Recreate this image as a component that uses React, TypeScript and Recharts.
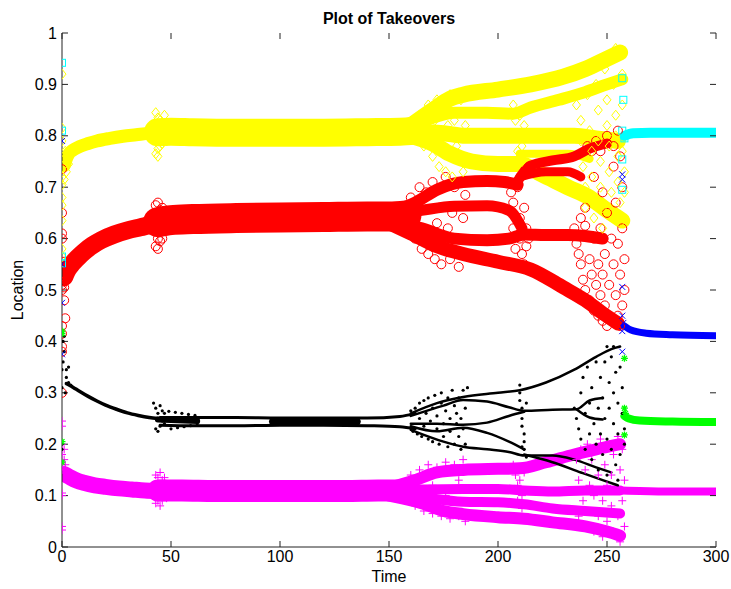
import React from "react";
import { ComposedChart, Line, Scatter, XAxis, YAxis, ReferenceLine } from "recharts";

// ---- tick labels ----
const timeTicks = [0, 50, 100, 150, 200, 250, 300];
const locTicks = [0, 0.1, 0.2, 0.3, 0.4, 0.5, 0.6, 0.7, 0.8, 0.9, 1];

// ---- yellow (diamonds) ----
const yellowEarly = [[1, 0.742], [2, 0.755], [3, 0.764], [5, 0.772], [8, 0.779], [12, 0.785], [16, 0.79], [22, 0.795], [28, 0.799], [34, 0.802], [40, 0.805], [44, 0.806]];
const yellowMain = [[44, 0.807], [50, 0.808], [60, 0.807], [80, 0.806], [100, 0.806], [120, 0.806], [140, 0.807], [155, 0.808], [162, 0.81]];
const yellowA = [[160, 0.82], [170, 0.85], [178, 0.872], [184, 0.88], [200, 0.89], [215, 0.9], [230, 0.915], [240, 0.93], [250, 0.95], [256, 0.962]];
const yellowB = [[160, 0.815], [170, 0.835], [180, 0.845], [195, 0.845], [207, 0.843], [215, 0.855], [228, 0.87], [240, 0.885], [250, 0.9], [257, 0.91]];
const yellowC = [[160, 0.808], [175, 0.805], [185, 0.8], [200, 0.8], [210, 0.8], [222, 0.8], [235, 0.8], [245, 0.795], [255, 0.79]];
const yellowD = [[160, 0.8], [170, 0.785], [178, 0.765], [188, 0.75], [200, 0.745], [210, 0.745], [220, 0.725], [232, 0.7], [242, 0.68], [250, 0.655], [257, 0.635]];
const yellowE = [[210, 0.765], [220, 0.765], [232, 0.765], [242, 0.755]];
const yellowPts = [
  [0, 0.92], [0, 0.815], [0, 0.79], [0, 0.72], [0, 0.705], [0, 0.68], [0, 0.665], [0, 0.635], [0, 0.58], [0, 0.565],
  [1, 0.755], [1.5, 0.77], [2, 0.73], [2.5, 0.76], [1, 0.715], [3, 0.745],
  [43, 0.845], [43, 0.765], [44, 0.835], [44, 0.775], [45, 0.83], [45, 0.78], [46, 0.825], [46, 0.785], [47, 0.84], [44, 0.76], [45, 0.815], [48, 0.79],
  [164, 0.84], [166, 0.78], [168, 0.86], [170, 0.76], [172, 0.87], [173, 0.74], [175, 0.85], [176, 0.73], [178, 0.88], [179, 0.72], [180, 0.83], [181, 0.78], [183, 0.87], [184, 0.73], [185, 0.82], [168, 0.8], [174, 0.8], [177, 0.82], [171, 0.83],
  [207, 0.86], [208, 0.83], [209, 0.8], [209, 0.77], [210, 0.84], [211, 0.78], [211, 0.75], [212, 0.82], [207, 0.74],
  [236, 0.86], [238, 0.83], [238, 0.79], [239, 0.74], [240, 0.7], [240, 0.66], [241, 0.88], [242, 0.81], [243, 0.77], [243, 0.72], [244, 0.68], [244, 0.64], [245, 0.9], [246, 0.85], [246, 0.79], [247, 0.75], [247, 0.7], [248, 0.66], [248, 0.62], [249, 0.93], [250, 0.87], [250, 0.82], [251, 0.78], [251, 0.73], [252, 0.69], [252, 0.65], [253, 0.95], [253, 0.9], [254, 0.84], [254, 0.8], [255, 0.76], [255, 0.71], [256, 0.67], [256, 0.63], [257, 0.92], [257, 0.86], [257, 0.77], [258, 0.73], [258, 0.69], [256, 0.96], [254, 0.97],
];

// ---- red (circles) ----
const redEarly = [[1, 0.525], [2, 0.535], [4, 0.548], [7, 0.562], [10, 0.574], [14, 0.587], [18, 0.597], [24, 0.608], [30, 0.616], [36, 0.622], [42, 0.628], [45, 0.63]];
const redMain = [[44, 0.632], [50, 0.636], [60, 0.638], [80, 0.64], [100, 0.641], [120, 0.642], [140, 0.643], [150, 0.643], [158, 0.645]];
const redA = [[150, 0.65], [162, 0.67], [172, 0.695], [184, 0.71], [195, 0.712], [203, 0.71], [209, 0.705]];
const redA2 = [[208, 0.705], [215, 0.742], [225, 0.752], [235, 0.76], [242, 0.775], [250, 0.785]];
const redA3 = [[210, 0.72], [222, 0.73], [232, 0.73], [238, 0.72]];
const redB = [[150, 0.645], [165, 0.655], [180, 0.663], [195, 0.664], [205, 0.655], [211, 0.62]];
const redC = [[150, 0.635], [165, 0.62], [180, 0.6], [195, 0.597], [205, 0.6], [212, 0.608], [222, 0.607], [232, 0.607], [240, 0.605], [248, 0.6]];
const redD = [[150, 0.63], [160, 0.61], [172, 0.585], [184, 0.57], [200, 0.555], [215, 0.54], [230, 0.505], [240, 0.48], [248, 0.455], [255, 0.435]];
const redPts = [
  [0, 0.735], [0, 0.65], [0, 0.61], [0, 0.6], [0, 0.51], [0, 0.5], [1, 0.48], [1.5, 0.445], [0, 0.43], [0, 0.415], [0, 0.39], [0, 0.38], [0, 0.3], [1, 0.505], [2, 0.52], [3, 0.53], [1, 0.555],
  [43, 0.665], [43, 0.585], [44, 0.67], [44, 0.58], [45, 0.655], [45, 0.595], [46, 0.66], [46, 0.6], [47, 0.65], [44, 0.6],
  [160, 0.68], [162, 0.6], [164, 0.7], [165, 0.58], [167, 0.69], [168, 0.57], [170, 0.71], [171, 0.56], [173, 0.66], [174, 0.55], [176, 0.72], [177, 0.62], [178, 0.56], [180, 0.7], [181, 0.6], [182, 0.545], [184, 0.64], [185, 0.685], [179, 0.65], [172, 0.63],
  [206, 0.69], [207, 0.67], [207, 0.62], [208, 0.58], [209, 0.7], [210, 0.64], [210, 0.6], [211, 0.57], [212, 0.66], [213, 0.62], [213, 0.585], [214, 0.6], [212, 0.55],
  [235, 0.62], [236, 0.59], [237, 0.57], [238, 0.55], [238, 0.64], [239, 0.52], [240, 0.5], [240, 0.66], [241, 0.78], [242, 0.48], [242, 0.56], [243, 0.53], [243, 0.77], [244, 0.46], [244, 0.6], [245, 0.51], [245, 0.79], [246, 0.45], [246, 0.55], [247, 0.49], [247, 0.62], [248, 0.44], [248, 0.53], [249, 0.57], [249, 0.47], [250, 0.43], [250, 0.65], [250, 0.8], [251, 0.51], [252, 0.6], [252, 0.44], [253, 0.55], [253, 0.74], [254, 0.49], [254, 0.67], [255, 0.45], [255, 0.59], [255, 0.81], [256, 0.53], [256, 0.43], [257, 0.62], [257, 0.7], [257, 0.47], [258, 0.56], [258, 0.5], [256, 0.76], [253, 0.78], [247, 0.77], [244, 0.72], [240, 0.625], [248, 0.69],
];

// ---- black (dots) ----
const blackEarly = [[2, 0.318], [3, 0.316], [5, 0.311], [8, 0.303], [12, 0.293], [16, 0.284], [20, 0.276], [25, 0.268], [30, 0.261], [35, 0.256], [40, 0.252], [44, 0.25]];
const blackHatch = [[44, 0.248], [50, 0.247], [56, 0.246], [62, 0.245]];
const blackUpper = [[45, 0.252], [60, 0.252], [80, 0.252], [100, 0.251], [120, 0.251], [140, 0.251], [155, 0.254], [162, 0.26]];
const blackLower = [[45, 0.237], [60, 0.236], [80, 0.236], [100, 0.237], [120, 0.237], [140, 0.236], [155, 0.234], [162, 0.23]];
const blackFill = [[97, 0.244], [110, 0.244], [125, 0.244], [135, 0.244]];
const blackA = [[160, 0.26], [172, 0.28], [184, 0.292], [200, 0.3], [210, 0.305], [222, 0.32], [235, 0.345], [245, 0.37], [252, 0.385], [256, 0.39]];
const blackB = [[160, 0.255], [175, 0.275], [184, 0.286], [195, 0.283], [205, 0.272], [212, 0.265], [225, 0.267], [236, 0.268], [242, 0.285], [248, 0.29]];
const blackB2 = [[236, 0.268], [242, 0.252], [248, 0.248]];
const blackC = [[160, 0.24], [172, 0.24], [184, 0.238], [195, 0.242], [205, 0.255], [212, 0.263]];
const blackD = [[160, 0.235], [172, 0.225], [184, 0.232], [195, 0.222], [205, 0.205], [212, 0.19]];
const blackE = [[160, 0.228], [175, 0.205], [184, 0.195], [195, 0.19], [205, 0.185], [212, 0.178], [225, 0.178], [235, 0.17], [245, 0.155], [252, 0.145]];
const blackF = [[212, 0.18], [225, 0.165], [238, 0.145], [248, 0.13], [255, 0.12]];
const blackPts = [
  [0, 0.19], [0, 0.2], [0, 0.31], [0, 0.345], [0.5, 0.36], [1, 0.38], [0.5, 0.4], [0, 0.42], [1, 0.41], [2, 0.33], [2, 0.345], [3, 0.35], [1.5, 0.3], [3, 0.32], [4, 0.315],
  [42, 0.28], [43, 0.27], [43, 0.23], [44, 0.26], [44, 0.225], [45, 0.275], [45, 0.235], [46, 0.245], [46, 0.265], [47, 0.24], [47, 0.26], [48, 0.25],
  [49, 0.264], [50, 0.23], [52, 0.262], [53, 0.232], [55, 0.26], [56, 0.234], [58, 0.258], [59, 0.236], [61, 0.256], [62, 0.237],
  [160, 0.265], [161, 0.225], [162, 0.27], [163, 0.22], [164, 0.28], [164, 0.25], [165, 0.215], [166, 0.285], [166, 0.235], [167, 0.26], [168, 0.21], [168, 0.29], [169, 0.245], [170, 0.205], [170, 0.27], [171, 0.295], [172, 0.23], [172, 0.255], [173, 0.2], [174, 0.28], [174, 0.3], [175, 0.24], [175, 0.215], [176, 0.265], [177, 0.195], [177, 0.29], [178, 0.25], [178, 0.225], [179, 0.305], [180, 0.275], [180, 0.2], [181, 0.24], [181, 0.26], [182, 0.215], [182, 0.29], [183, 0.19], [183, 0.25], [184, 0.305], [184, 0.23], [185, 0.27], [185, 0.2], [186, 0.31],
  [210, 0.3], [210, 0.285], [211, 0.27], [211, 0.25], [211, 0.235], [212, 0.22], [212, 0.205], [212, 0.19], [213, 0.175], [210, 0.315], [213, 0.28], [211, 0.195],
  [235, 0.27], [236, 0.25], [237, 0.23], [238, 0.3], [238, 0.21], [239, 0.33], [240, 0.19], [240, 0.26], [241, 0.35], [242, 0.22], [242, 0.28], [243, 0.17], [243, 0.31], [244, 0.24], [245, 0.36], [245, 0.2], [246, 0.27], [246, 0.15], [247, 0.33], [247, 0.22], [248, 0.18], [248, 0.29], [249, 0.36], [249, 0.25], [250, 0.14], [250, 0.21], [251, 0.32], [251, 0.27], [252, 0.19], [252, 0.37], [253, 0.24], [253, 0.3], [254, 0.16], [254, 0.34], [255, 0.22], [255, 0.28], [256, 0.35], [256, 0.18], [257, 0.26], [257, 0.31], [258, 0.2], [258, 0.23], [253, 0.39], [250, 0.39], [255, 0.13],
];

// ---- magenta (plus) ----
const magEarly = [[1, 0.142], [2, 0.14], [4, 0.135], [7, 0.129], [10, 0.125], [15, 0.12], [20, 0.117], [26, 0.114], [32, 0.112], [38, 0.11], [44, 0.109]];
const magMain = [[44, 0.11], [55, 0.11], [70, 0.109], [90, 0.109], [110, 0.109], [130, 0.109], [145, 0.11], [155, 0.11]];
const magA = [[150, 0.115], [162, 0.13], [172, 0.145], [184, 0.15], [200, 0.152], [210, 0.153], [222, 0.165], [235, 0.18], [245, 0.19], [256, 0.2]];
const magB = [[150, 0.11], [165, 0.112], [184, 0.113], [200, 0.113], [212, 0.11], [225, 0.108], [240, 0.11], [256, 0.11]];
const magC = [[150, 0.105], [165, 0.097], [184, 0.088], [200, 0.087], [212, 0.083], [225, 0.075], [240, 0.07], [256, 0.065]];
const magD = [[150, 0.1], [165, 0.085], [175, 0.07], [184, 0.064], [200, 0.058], [212, 0.055], [225, 0.048], [240, 0.04], [250, 0.03], [256, 0.022]];
const magLate = [[257, 0.11], [265, 0.109], [280, 0.108], [300, 0.108]];
const magPts = [
  [0, 0.245], [0, 0.235], [0, 0.2], [0, 0.18], [0, 0.16], [0, 0.15], [0, 0.105], [0, 0.1], [0, 0.04], [0, 0.033], [1, 0.19], [1, 0.17], [1.5, 0.16],
  [43, 0.14], [43, 0.085], [44, 0.135], [44, 0.09], [45, 0.145], [45, 0.08], [46, 0.13], [46, 0.09], [47, 0.135], [48, 0.095],
  [160, 0.14], [162, 0.08], [164, 0.15], [166, 0.07], [168, 0.16], [170, 0.065], [172, 0.155], [174, 0.06], [176, 0.165], [178, 0.055], [180, 0.16], [182, 0.06], [184, 0.17], [185, 0.05], [170, 0.12], [176, 0.1], [182, 0.13],
  [207, 0.16], [208, 0.14], [209, 0.12], [209, 0.09], [210, 0.13], [211, 0.1], [211, 0.075], [212, 0.145],
  [236, 0.17], [237, 0.13], [237, 0.06], [238, 0.19], [239, 0.09], [240, 0.15], [240, 0.04], [241, 0.2], [242, 0.12], [242, 0.07], [243, 0.17], [244, 0.03], [244, 0.1], [245, 0.19], [246, 0.14], [246, 0.06], [247, 0.21], [248, 0.09], [248, 0.02], [249, 0.16], [250, 0.12], [250, 0.05], [251, 0.2], [252, 0.08], [252, 0.14], [253, 0.03], [253, 0.18], [254, 0.11], [255, 0.215], [255, 0.06], [256, 0.15], [256, 0.01], [257, 0.09], [257, 0.19], [258, 0.13], [258, 0.04], [254, 0.025],
];

// ---- winners after t≈258 ----
const cyanLate = [[258, 0.8], [262, 0.805], [270, 0.806], [285, 0.806], [300, 0.806]];
const cyanPts = [[0, 0.942], [0, 0.81], [0, 0.565], [0, 0.552], [257, 0.912], [257.5, 0.87], [257, 0.81], [257, 0.754], [257, 0.695], [258, 0.795]];
const blueLate = [[258, 0.43], [261, 0.422], [268, 0.416], [280, 0.413], [300, 0.411]];
const bluePts = [[0, 0.79], [0, 0.55], [0, 0.475], [0, 0.375], [257, 0.725], [257, 0.715], [257, 0.506], [257, 0.45], [257.5, 0.436], [257, 0.42], [257, 0.38]];
const greenLate = [[258, 0.255], [260, 0.25], [265, 0.246], [280, 0.244], [300, 0.243]];
const greenPts = [[0, 0.42], [0, 0.415], [0, 0.205], [0, 0.165], [258, 0.367], [258, 0.218], [258, 0.27], [258.5, 0.26]];

const toPts = (arr: number[][]) => arr.map(([t, y]) => ({ t, y }));

const YEL = "#ffff00";
const RED = "#ff0000";
const BLK = "#000000";
const MAG = "#ff00ff";
const CYN = "#00ffff";
const BLU = "#0000ff";
const GRN = "#00ff00";

const bands = [
  { id: "rE", d: redEarly, c: RED, w: 18 },
  { id: "rM", d: redMain, c: RED, w: 30 },
  { id: "rA", d: redA, c: RED, w: 12 },
  { id: "rB", d: redB, c: RED, w: 11 },
  { id: "rC", d: redC, c: RED, w: 12 },
  { id: "rD", d: redD, c: RED, w: 14 },
  { id: "yE", d: yellowEarly, c: YEL, w: 13 },
  { id: "yM", d: yellowMain, c: YEL, w: 28 },
  { id: "yA", d: yellowA, c: YEL, w: 16 },
  { id: "yB", d: yellowB, c: YEL, w: 12 },
  { id: "yC", d: yellowC, c: YEL, w: 16 },
  { id: "yD", d: yellowD, c: YEL, w: 16 },
  { id: "yE2", d: yellowE, c: YEL, w: 8 },
  { id: "rA2", d: redA2, c: RED, w: 10 },
  { id: "rA3", d: redA3, c: RED, w: 9 },
  { id: "mE", d: magEarly, c: MAG, w: 16 },
  { id: "mM", d: magMain, c: MAG, w: 22 },
  { id: "mA", d: magA, c: MAG, w: 12 },
  { id: "mB", d: magB, c: MAG, w: 10 },
  { id: "mC", d: magC, c: MAG, w: 10 },
  { id: "mD", d: magD, c: MAG, w: 12 },
  { id: "mL", d: magLate, c: MAG, w: 8 },
  { id: "kE", d: blackEarly, c: BLK, w: 3.5 },
  { id: "kH", d: blackHatch, c: BLK, w: 6 },
  { id: "kU", d: blackUpper, c: BLK, w: 3 },
  { id: "kL", d: blackLower, c: BLK, w: 3 },
  { id: "kFi", d: blackFill, c: BLK, w: 9 },
  { id: "kA", d: blackA, c: BLK, w: 2.5 },
  { id: "kB", d: blackB, c: BLK, w: 2.5 },
  { id: "kB2", d: blackB2, c: BLK, w: 2.5 },
  { id: "kC", d: blackC, c: BLK, w: 2.5 },
  { id: "kD", d: blackD, c: BLK, w: 2.5 },
  { id: "kEe", d: blackE, c: BLK, w: 2.5 },
  { id: "kF", d: blackF, c: BLK, w: 2.5 },
  { id: "cL", d: cyanLate, c: CYN, w: 10 },
  { id: "bL", d: blueLate, c: BLU, w: 7 },
  { id: "gL", d: greenLate, c: GRN, w: 8 },
];

type Kind = "diamond" | "circle" | "plus" | "dot" | "square" | "x" | "star";

const marker = (kind: Kind, color: string) => (p: any) => {
  const { cx, cy } = p;
  if (cx == null || cy == null) return <g />;
  const s = { stroke: color, strokeWidth: 1, fill: "none" };
  switch (kind) {
    case "diamond":
      return <polygon points={`${cx},${cy - 5} ${cx + 4},${cy} ${cx},${cy + 5} ${cx - 4},${cy}`} {...s} />;
    case "circle":
      return <circle cx={cx} cy={cy} r={4.5} {...s} />;
    case "plus":
      return <path d={`M${cx - 4},${cy}H${cx + 4}M${cx},${cy - 4}V${cy + 4}`} {...s} />;
    case "dot":
      return <circle cx={cx} cy={cy} r={1.6} fill={color} />;
    case "square":
      return <rect x={cx - 3.5} y={cy - 3.5} width={7} height={7} {...s} />;
    case "x":
      return <path d={`M${cx - 3},${cy - 3}L${cx + 3},${cy + 3}M${cx - 3},${cy + 3}L${cx + 3},${cy - 3}`} {...s} />;
    default:
      return (
        <path
          d={`M${cx - 3.5},${cy}H${cx + 3.5}M${cx},${cy - 3.5}V${cy + 3.5}M${cx - 2.5},${cy - 2.5}L${cx + 2.5},${cy + 2.5}M${cx - 2.5},${cy + 2.5}L${cx + 2.5},${cy - 2.5}`}
          {...s}
          strokeWidth={1.3}
        />
      );
  }
};

const scatters = [
  { id: "sr", d: redPts, k: "circle" as Kind, c: RED },
  { id: "sy", d: yellowPts, k: "diamond" as Kind, c: YEL },
  { id: "sm", d: magPts, k: "plus" as Kind, c: MAG },
  { id: "sk", d: blackPts, k: "dot" as Kind, c: BLK },
  { id: "sc", d: cyanPts, k: "square" as Kind, c: CYN },
  { id: "sb", d: bluePts, k: "x" as Kind, c: BLU },
  { id: "sg", d: greenPts, k: "star" as Kind, c: GRN },
];

const FONT = "'Liberation Sans', Arial, Helvetica, sans-serif";
const AX = "#222";
const tickStyle = { fill: "#000", fontSize: 16, fontFamily: FONT };
// inward tick length, in axis units (about 6 px)
const TX = 2.75;
const TY = 0.0117;

export default function App() {
  return (
    <div style={{ position: "relative", width: 731, height: 589, background: "#fff", fontFamily: FONT }}>
      <style>{`body{margin:0}`}</style>
      <div style={{ position: "absolute", left: 62, width: 654, top: 9, textAlign: "center", fontSize: 16, fontWeight: "bold", lineHeight: "19px" }}>
        Plot of Takeovers
      </div>
      <div style={{ position: "absolute", left: 62, width: 654, top: 567, textAlign: "center", fontSize: 16, lineHeight: "19px" }}>
        Time
      </div>
      <div
        style={{
          position: "absolute",
          left: 17,
          top: 290,
          fontSize: 16,
          lineHeight: "19px",
          transform: "translate(-50%, -50%) rotate(-90deg)",
          whiteSpace: "nowrap",
        }}
      >
        Location
      </div>
      <ComposedChart width={731} height={589} margin={{ top: 33, right: 15, bottom: 12, left: 22 }}>
        <XAxis
          dataKey="t"
          type="number"
          domain={[0, 300]}
          ticks={timeTicks}
          allowDataOverflow
          height={30}
          stroke={AX}
          tickLine={false}
          tickSize={0}
          tickMargin={4}
          tick={tickStyle}
        />
        <XAxis
          xAxisId="top"
          orientation="top"
          type="number"
          domain={[0, 300]}
          ticks={timeTicks}
          height={0}
          stroke={AX}
          tickLine={false}
          tickFormatter={() => ""}
        />
        <YAxis
          dataKey="y"
          type="number"
          domain={[0, 1]}
          ticks={locTicks}
          allowDataOverflow
          width={40}
          stroke={AX}
          tickLine={false}
          tickSize={0}
          tickMargin={5}
          tick={tickStyle}
        />
        <YAxis
          yAxisId="right"
          orientation="right"
          type="number"
          domain={[0, 1]}
          ticks={locTicks}
          width={0}
          stroke={AX}
          tickLine={false}
          tickFormatter={() => ""}
        />
        {bands.map((b) => (
          <Line
            key={b.id}
            data={toPts(b.d)}
            dataKey="y"
            type="monotone"
            stroke={b.c}
            strokeWidth={b.w}
            strokeLinecap="round"
            strokeLinejoin="round"
            dot={false}
            activeDot={false}
            isAnimationActive={false}
          />
        ))}
        {scatters.map((s) => (
          <Scatter
            key={s.id}
            data={toPts(s.d)}
            dataKey="y"
            shape={marker(s.k, s.c)}
            isAnimationActive={false}
          />
        ))}
        {timeTicks.map((t) => (
          <ReferenceLine key={`bt${t}`} segment={[{ x: t, y: 0 }, { x: t, y: TY }]} stroke={AX} />
        ))}
        {timeTicks.map((t) => (
          <ReferenceLine key={`tt${t}`} segment={[{ x: t, y: 1 }, { x: t, y: 1 - TY }]} stroke={AX} />
        ))}
        {locTicks.map((v) => (
          <ReferenceLine key={`lt${v}`} segment={[{ x: 0, y: v }, { x: TX, y: v }]} stroke={AX} />
        ))}
        {locTicks.map((v) => (
          <ReferenceLine key={`rt${v}`} segment={[{ x: 300, y: v }, { x: 300 - TX, y: v }]} stroke={AX} />
        ))}
      </ComposedChart>
    </div>
  );
}
